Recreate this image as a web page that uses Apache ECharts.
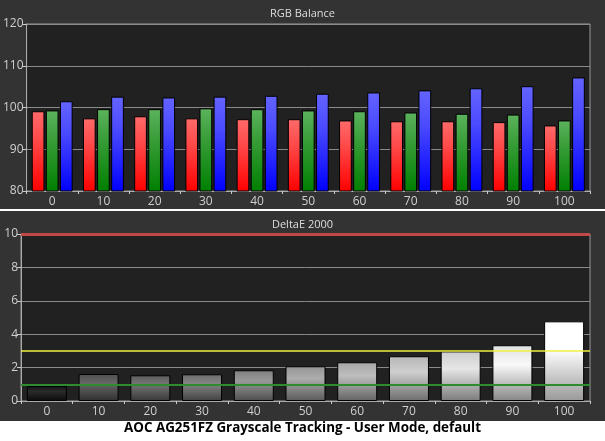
<!DOCTYPE html>
<html>
<head>
<meta charset="utf-8">
<script src="https://cdn.jsdelivr.net/npm/echarts@6/dist/echarts.min.js"></script>
<style>
html,body{margin:0;padding:0;background:#fff;}
#c{width:605px;height:441px;}
</style>
</head>
<body>
<div id="c"></div>
<script>
var categories = ['0','10','20','30','40','50','60','70','80','90','100'];
var redValues   = [99.1, 97.4, 97.9, 97.4, 97.2, 97.2, 96.9, 96.7, 96.7, 96.5, 95.7];
var greenValues = [99.3, 99.6, 99.6, 99.8, 99.6, 99.3, 99.1, 98.8, 98.5, 98.3, 96.9];
var blueValues  = [101.5, 102.6, 102.4, 102.6, 102.8, 103.3, 103.6, 104.1, 104.6, 105.1, 107.2];
var deltaE      = [0.9, 1.62, 1.54, 1.60, 1.84, 2.08, 2.32, 2.68, 2.97, 3.34, 4.77];
var rgbTicks = [80, 90, 100, 110, 120];
var deTicks = [0, 2, 4, 6, 8, 10];
var deltaRefs = [1, 3, 10];

// style only: gray tone of each grayscale bar
var grayTones = [18, 78, 92, 108, 128, 148, 165, 182, 205, 224, 255];

function grad(top, mid, bottom) {
  return new echarts.graphic.LinearGradient(0, 0, 0, 1, [
    {offset: 0, color: top}, {offset: 0.35, color: mid}, {offset: 1, color: bottom}
  ]);
}
function g(v) { v = Math.max(0, Math.min(255, Math.round(v))); return 'rgb(' + v + ',' + v + ',' + v + ')'; }

var chart = echarts.init(document.getElementById('c'), null, {renderer: 'canvas'});
var font = 'Open Sans';
var labelColor = '#cfcfcf';

function xAxisCfg(gi) {
  return {
    type: 'category', gridIndex: gi, data: categories, boundaryGap: true,
    axisLine: {show: true, lineStyle: {color: '#aaaaaa', width: 1}},
    axisTick: {show: true, length: 3, lineStyle: {color: '#cccccc'}},
    axisLabel: {color: labelColor, fontSize: 12, fontFamily: font, margin: 5},
    splitLine: {show: false}
  };
}
function yAxisCfg(gi, ticks) {
  return {
    type: 'value', gridIndex: gi, min: ticks[0], max: ticks[ticks.length - 1],
    interval: ticks[1] - ticks[0],
    axisLine: {show: true, lineStyle: {color: '#aaaaaa', width: 1}},
    axisTick: {show: true, length: 4, lineStyle: {color: '#cccccc'}},
    axisLabel: {color: labelColor, fontSize: 12, fontFamily: font, margin: 3},
    splitLine: {show: true, lineStyle: {color: '#8a8a8a', width: 1}}
  };
}

var grayData = deltaE.map(function (v, i) {
  var t = grayTones[i];
  return {value: v, itemStyle: {color: grad(g(t), g(t + 25), g(t * 0.6))}};
});

var barCommon = {type: 'bar', xAxisIndex: 0, yAxisIndex: 0, barWidth: 12.7, barGap: '11%'};

var option = {
  backgroundColor: '#ffffff',
  animation: false,
  graphic: [
    {type: 'rect', shape: {x: 0, y: 0, width: 605, height: 209}, style: {fill: '#333333'}, z: -10, silent: true},
    {type: 'rect', shape: {x: 0, y: 211, width: 605, height: 210}, style: {fill: '#333333'}, z: -10, silent: true},
    {type: 'text', left: 'center', top: 422, z: 10,
      style: {text: 'AOC AG251FZ Grayscale Tracking - User Mode, default', fill: '#000', font: 'bold 13.4px "Open Sans"'}}
  ],
  title: [
    {text: 'RGB Balance', left: 'center', top: 8, padding: 0,
      textStyle: {color: '#dddddd', fontSize: 11, fontWeight: 'normal', fontFamily: font}},
    {text: 'DeltaE 2000', left: 'center', top: 219, padding: 0,
      textStyle: {color: '#dddddd', fontSize: 11, fontWeight: 'normal', fontFamily: font}}
  ],
  grid: [
    {left: 26, right: 15, top: 24, bottom: 250, show: true, backgroundColor: '#212121', borderColor: '#999999', borderWidth: 1},
    {left: 21, right: 15, top: 234, bottom: 40, show: true, backgroundColor: '#212121', borderColor: '#999999', borderWidth: 1}
  ],
  xAxis: [xAxisCfg(0), xAxisCfg(1)],
  yAxis: [yAxisCfg(0, rgbTicks), yAxisCfg(1, deTicks)],
  series: [
    Object.assign({name: 'Red', data: redValues,
      itemStyle: {color: grad('#ff6a6a', '#ff4a4a', '#ff0000'), borderColor: '#000', borderWidth: 1}}, barCommon),
    Object.assign({name: 'Green', data: greenValues,
      itemStyle: {color: grad('#5cb35c', '#3a9e3a', '#008000'), borderColor: '#000', borderWidth: 1}}, barCommon),
    Object.assign({name: 'Blue', data: blueValues,
      itemStyle: {color: grad('#6464ff', '#4a4aff', '#0000ff'), borderColor: '#000', borderWidth: 1}}, barCommon),
    {name: 'DeltaE', type: 'bar', xAxisIndex: 1, yAxisIndex: 1, data: grayData,
      barWidth: 40,
      itemStyle: {borderColor: '#000', borderWidth: 1},
      markLine: {
        silent: true, symbol: 'none', label: {show: false}, z: 5,
        data: [
          {yAxis: deltaRefs[0], lineStyle: {color: '#2e8b2e', width: 2, type: 'solid'}},
          {yAxis: deltaRefs[1], lineStyle: {color: '#f0f040', width: 1.5, type: 'solid'}},
          {yAxis: deltaRefs[2], lineStyle: {color: '#c04848', width: 3, type: 'solid'}}
        ]
      }}
  ]
};
chart.setOption(option);
</script>
</body>
</html>
